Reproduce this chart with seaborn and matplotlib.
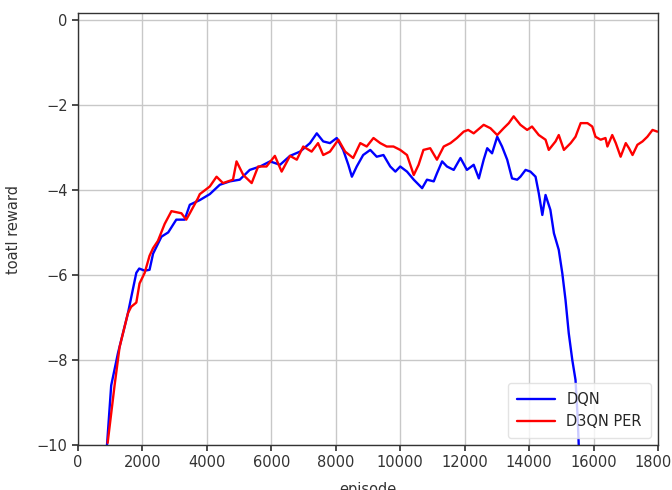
import matplotlib
matplotlib.use("Agg")
import matplotlib.pyplot as plt
import seaborn as sns
import pandas as pd

# ---- data ----
dqn_episode = [900, 1030, 1240, 1550, 1700, 1810, 1900, 2070, 2220, 2330, 2590, 2800,
               3050, 3310, 3470, 3780, 4090, 4400, 4710, 5020, 5330, 5650, 5960, 6270,
               6580, 6890, 7200, 7410, 7610, 7820, 8030, 8230, 8390, 8500, 8650, 8850,
               9070, 9270, 9480, 9690, 9850, 10000, 10210, 10420, 10680, 10830, 11040,
               11140, 11300, 11450, 11660, 11870, 12070, 12280, 12440, 12590, 12700,
               12850, 13010, 13160, 13320, 13470, 13630, 13730, 13890, 14040, 14200,
               14300, 14410, 14510, 14660, 14770, 14920, 15030, 15130, 15230, 15340,
               15440, 15510, 15540]
dqn_reward = [-10.0, -8.6, -7.84, -6.9, -6.35, -5.95, -5.85, -5.9, -5.88, -5.5, -5.1, -5.0,
              -4.7, -4.7, -4.35, -4.24, -4.1, -3.88, -3.8, -3.76, -3.53, -3.45, -3.33, -3.41,
              -3.2, -3.1, -2.9, -2.67, -2.86, -2.9, -2.78, -3.06, -3.41, -3.69, -3.45, -3.18,
              -3.06, -3.22, -3.18, -3.45, -3.57, -3.45, -3.57, -3.76, -3.96, -3.76, -3.8,
              -3.61, -3.33, -3.45, -3.53, -3.25, -3.53, -3.41, -3.73, -3.29, -3.02,
              -3.14, -2.75, -2.98, -3.29, -3.73, -3.76, -3.69, -3.53, -3.57, -3.69,
              -4.08, -4.59, -4.12, -4.47, -5.02, -5.41, -5.96, -6.59, -7.37, -8.0,
              -8.47, -9.4, -10.0]

per_episode = [920, 1135, 1290, 1550, 1650, 1810, 1910, 2070, 2220, 2330, 2480, 2690,
               2900, 3210, 3360, 3470, 3720, 3780, 4090, 4300, 4500, 4810, 4920, 5130,
               5390, 5590, 5850, 6110, 6320, 6580, 6790, 6990, 7250, 7450, 7610, 7820,
               8080, 8290, 8540, 8760, 8960, 9170, 9380, 9580, 9790, 10000, 10210, 10420,
               10570, 10720, 10930, 11140, 11350, 11560, 11760, 11970, 12110, 12280,
               12590, 12800, 13010, 13210, 13370, 13520, 13730, 13940, 14090, 14300,
               14510, 14610, 14820, 14920, 15080, 15290, 15440, 15600, 15810, 15960,
               16060, 16220, 16370, 16430, 16580, 16690, 16840, 17000, 17100, 17210,
               17360, 17520, 17670, 17830, 17980]
per_reward = [-9.95, -8.6, -7.7, -6.9, -6.75, -6.65, -6.2, -5.95, -5.55, -5.37, -5.2, -4.8,
              -4.5, -4.55, -4.7, -4.55, -4.2, -4.1, -3.92, -3.69, -3.84, -3.76, -3.33, -3.65,
              -3.84, -3.45, -3.45, -3.2, -3.57, -3.2, -3.29, -2.98, -3.1, -2.9, -3.18, -3.1,
              -2.82, -3.1, -3.25, -2.9, -2.98, -2.78, -2.9, -2.98, -2.98, -3.06, -3.18, -3.65,
              -3.41, -3.06, -3.02, -3.29, -2.98, -2.9, -2.78, -2.63, -2.59, -2.67,
              -2.47, -2.55, -2.71, -2.55, -2.43, -2.27, -2.47, -2.59, -2.51, -2.71,
              -2.82, -3.06, -2.86, -2.71, -3.06, -2.9, -2.75, -2.43, -2.43, -2.51,
              -2.75, -2.82, -2.78, -2.98, -2.71, -2.9, -3.22, -2.9, -3.02, -3.18,
              -2.94, -2.86, -2.75, -2.59, -2.63]

series_names = ["DQN", "D3QN PER"]
series_colors = ["#0000ff", "#ff0000"]
x_ticks = [0, 2000, 4000, 6000, 8000, 10000, 12000, 14000, 16000, 18000]
y_ticks = [0, -2, -4, -6, -8, -10]

df = pd.concat([
    pd.DataFrame({"episode": dqn_episode, "reward": dqn_reward, "model": series_names[0]}),
    pd.DataFrame({"episode": per_episode, "reward": per_reward, "model": series_names[1]}),
], ignore_index=True)

sns.set_theme(style="ticks", rc={"axes.grid": True, "grid.color": "#c8c8c8",
                                 "grid.linewidth": 1.0, "axes.edgecolor": "#333333",
                                 "axes.linewidth": 1.0})
plt.rcParams["font.family"] = ["DejaVu Sans"]

fig = plt.figure(figsize=(6.72, 4.9), dpi=100)
ax = fig.add_axes([78 / 672, 1 - 445 / 490, 580 / 672, 432 / 490])

sns.lineplot(data=df, x="episode", y="reward", hue="model", hue_order=series_names,
             palette=dict(zip(series_names, series_colors)), estimator=None, sort=False,
             linewidth=1.7, ax=ax)

ax.set_xlim(0, 18000)
ax.set_ylim(-10, 0.16)
ax.set_xticks(x_ticks)
ax.set_yticks(y_ticks)
ax.tick_params(labelsize=10.5, colors="#333333", length=4)
ax.set_xlabel("episode", fontsize=10.5, color="#333333", labelpad=8)
ax.set_ylabel("toatl reward", fontsize=10.5, color="#333333", labelpad=11)
ax.grid(True, color="#c8c8c8", linewidth=1.0)

leg = ax.legend(loc="lower right", fontsize=10.5, frameon=True, framealpha=0.8,
                edgecolor="#dddddd", borderpad=0.6, handlelength=2.6)
leg.set_title(None)

fig.savefig("out.png", dpi=100)
